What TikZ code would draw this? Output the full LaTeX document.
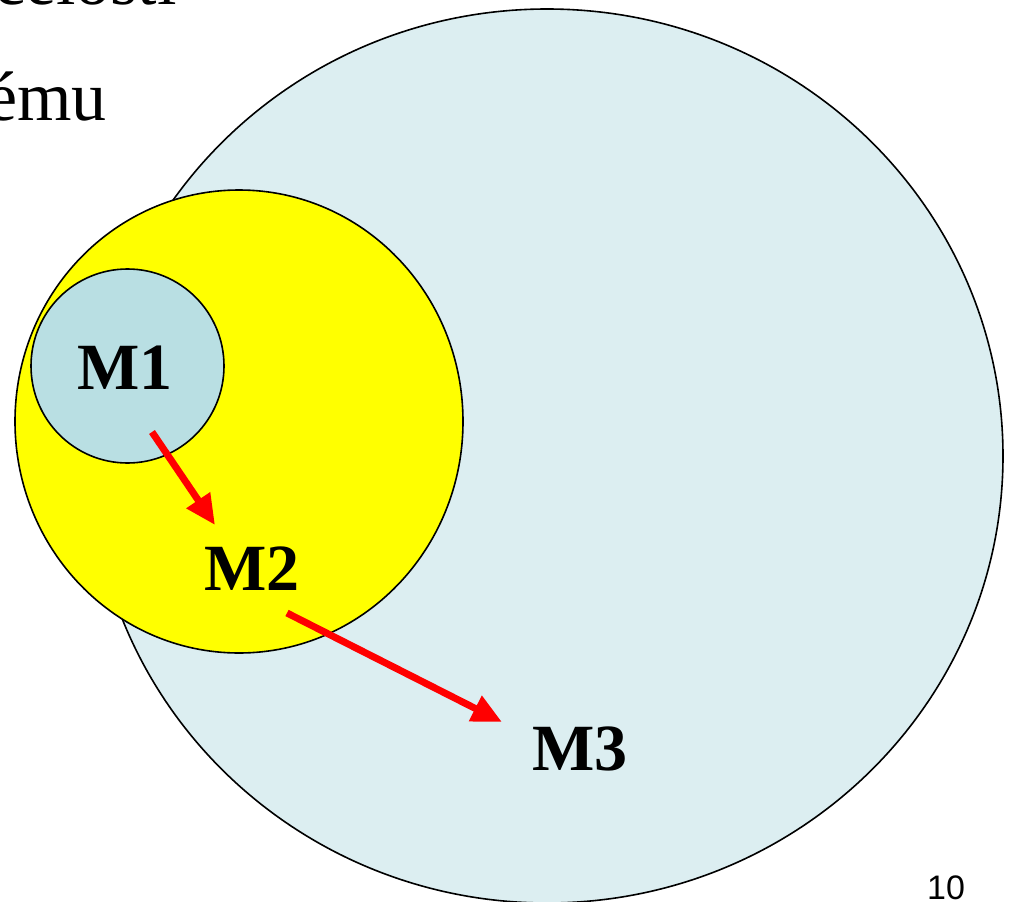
\documentclass[tikz,border=0pt]{standalone}
\usepackage{fontspec}
\setmainfont{Liberation Serif}
\newfontfamily\arialfont{Liberation Sans}
\usetikzlibrary{shapes.geometric,arrows.meta}
\definecolor{bigblue}{RGB}{220,238,241}
\definecolor{smallblue}{RGB}{185,223,227}
\definecolor{yel}{RGB}{255,255,0}
\definecolor{arrred}{RGB}{255,0,0}
\tikzset{
  circ/.style={ellipse, draw=black, line width=1.6pt, inner sep=0pt},
  lbl/.style={font=\fontsize{66}{66}\selectfont\bfseries, inner sep=0pt},
  body/.style={font=\fontsize{70}{70}\selectfont, inner sep=0pt},
  flow/.style={draw=arrred, line width=7pt, -{Triangle[length=30pt,width=27pt]}}
}
\begin{document}
\begin{tikzpicture}[x=1pt,y=-1pt]
\useasboundingbox (0,0) rectangle (1010,902);
\node[body, anchor=base east] (t1) at (177,5) {celosti};
\node[body, anchor=base east] (t2) at (107,120) {ému};
\node[circ, fill=bigblue, minimum width=912pt, minimum height=894pt] (big) at (547,456) {};
\node[circ, fill=yel, minimum width=448pt, minimum height=463pt] (mid) at (239,421.5) {};
\node[circ, fill=smallblue, minimum width=193pt, minimum height=194pt] (small) at (127.5,366) {};
\node[lbl] (m1) at (125,368) {M1};
\node[lbl] (m2) at (252,569) {M2};
\node[lbl] (m3) at (580,749) {M3};
\coordinate (a1s) at (152,432);
\coordinate (a1e) at (215,525);
\coordinate (a2s) at (287,613);
\coordinate (a2e) at (502,722);
\draw[flow] (a1s) -- (a1e);
\draw[flow] (a2s) -- (a2e);
\node[font=\arialfont\fontsize{34}{34}\selectfont, inner sep=0pt, anchor=base] (pg) at (946,899) {10};
\end{tikzpicture}
\end{document}
